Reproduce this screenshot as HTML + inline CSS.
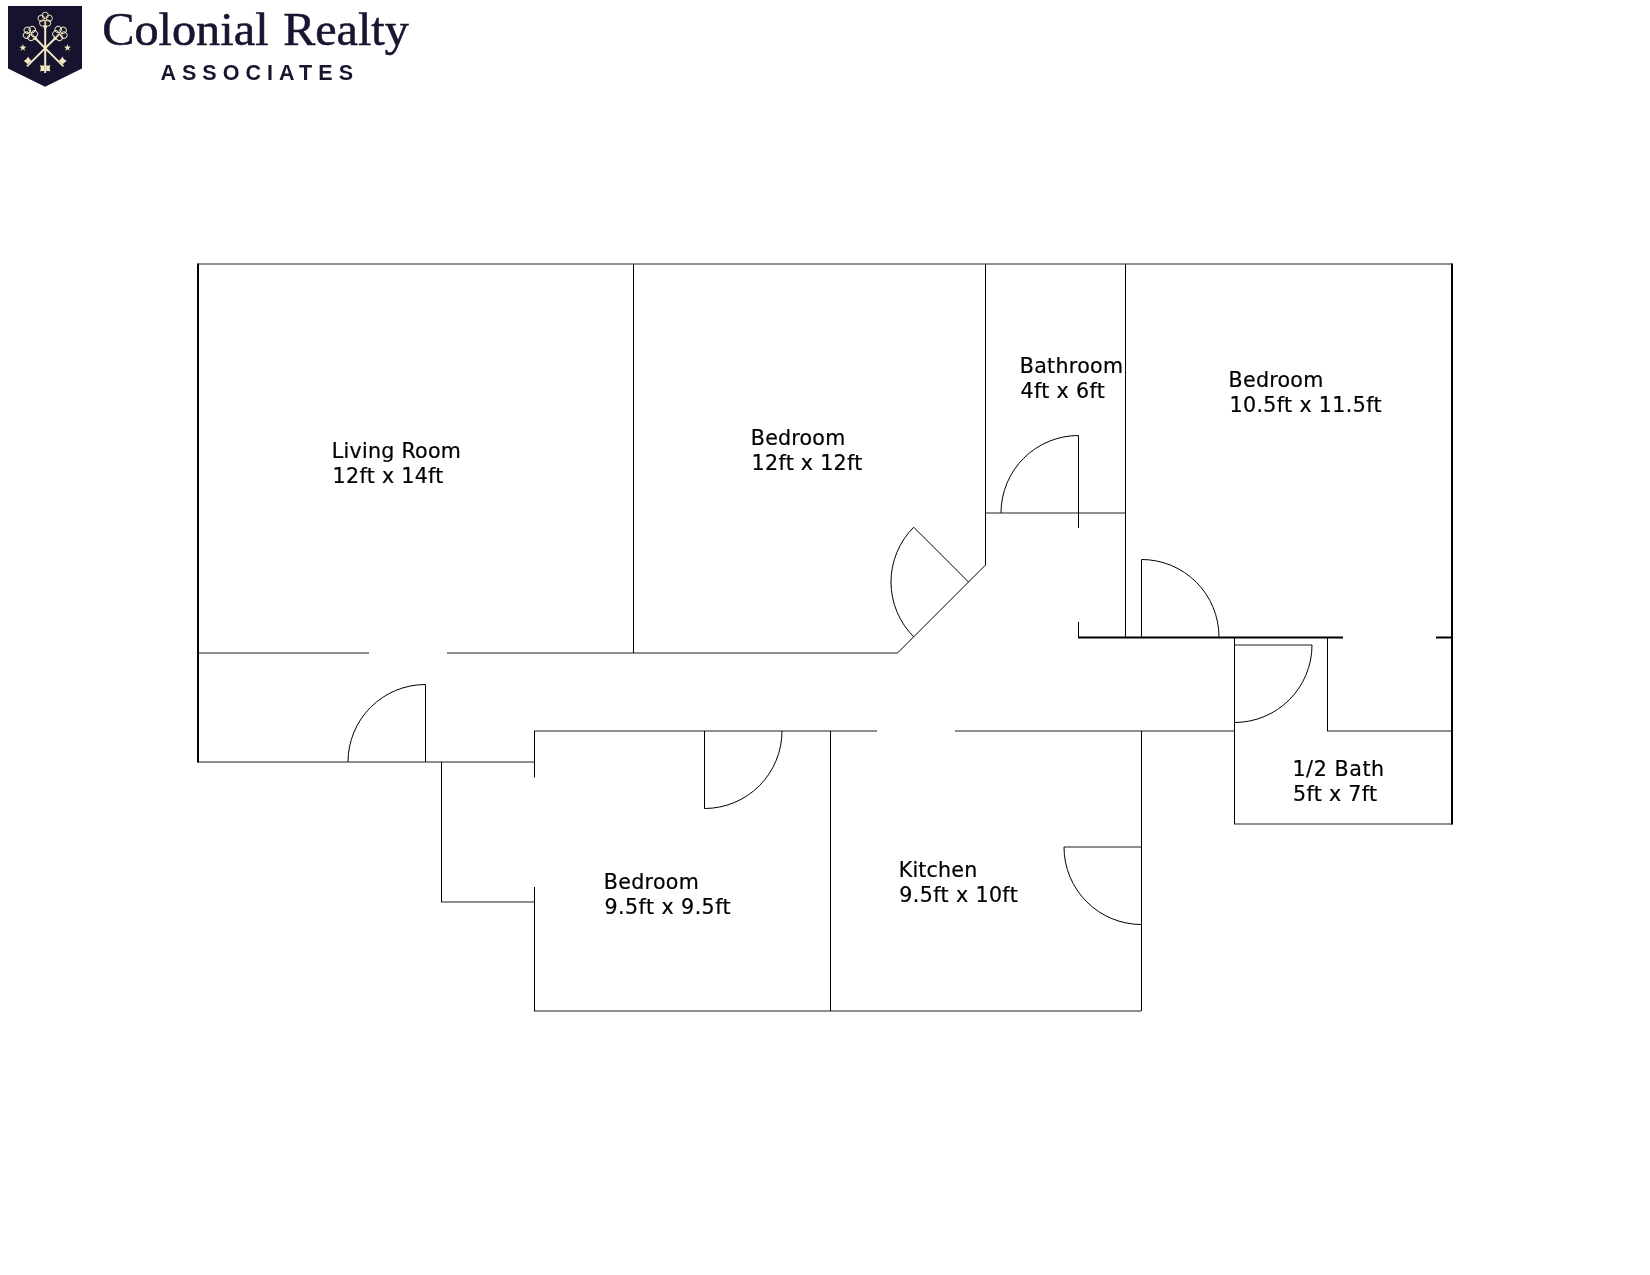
<!DOCTYPE html>
<html lang="en">
<head>
<meta charset="utf-8">
<title>Colonial Realty Associates - Floor Plan</title>
<style>
  html, body { margin: 0; padding: 0; background: #ffffff; }
  body { width: 1650px; height: 1275px; overflow: hidden; position: relative; }
  svg { position: absolute; left: 0; top: 0; display: block; }
  .lbl { font-family: "DejaVu Sans", "Liberation Sans", sans-serif; font-size: 20.6px; fill: #000; stroke: #000; stroke-width: 0.22px; }
  .brand { font-family: "Liberation Serif", serif; font-size: 46px; fill: #17152f; stroke: #17152f; stroke-width: 0.55px; }
  .assoc { font-family: "Liberation Sans", sans-serif; font-weight: bold; font-size: 21.5px; fill: #17152f; }
</style>
</head>
<body>
<svg width="1650" height="1275" viewBox="0 0 1650 1275">
  <defs><filter id="noop" x="0" y="0" width="1650" height="1275" filterUnits="userSpaceOnUse" color-interpolation-filters="sRGB"><feOffset dx="0" dy="0"/></filter></defs>
  <rect x="0" y="0" width="1650" height="1275" fill="#ffffff"/>

  <!-- LOGO -->
  <g id="logo" filter="url(#noop)">
    <polygon points="8,6 82,6 82,68.4 45.1,86.8 8,68.4" fill="#15132e"/>
    <g transform="translate(45.2,48.2)">
        <g fill="none" stroke="#f2e9c0" stroke-width="0.95">
          <circle cx="0.00" cy="-32.85" r="3.15"/>
          <circle cx="4.04" cy="-29.91" r="3.15"/>
          <circle cx="2.50" cy="-25.16" r="3.15"/>
          <circle cx="-2.50" cy="-25.16" r="3.15"/>
          <circle cx="-4.04" cy="-29.91" r="3.15"/>
        </g>
        <path fill="#f2e9c0" d="M-2.20,-22.40 L2.20,-22.40 L1.20,-19.80 L1.00,-18.40 L1.00,24.70 L-1.00,24.70 L-1.00,-18.40 L-1.20,-19.80 Z"/>
        <path fill="#f2e9c0" d="M-1.00,17.40 L-3.87,17.30 L-5.10,16.80 L-4.44,20.10 L-5.10,23.40 L-3.87,22.90 L-1.00,22.80 Z"/>
        <path fill="#f2e9c0" d="M1.00,17.40 L3.87,17.30 L5.10,16.80 L4.44,20.10 L5.10,23.40 L3.87,22.90 L1.00,22.80 Z"/>
      </g>
    <g transform="translate(45.2,48.2) rotate(-45)">
        <g fill="none" stroke="#f2e9c0" stroke-width="0.95">
          <circle cx="0.00" cy="-25.35" r="3.15"/>
          <circle cx="4.04" cy="-22.41" r="3.15"/>
          <circle cx="2.50" cy="-17.66" r="3.15"/>
          <circle cx="-2.50" cy="-17.66" r="3.15"/>
          <circle cx="-4.04" cy="-22.41" r="3.15"/>
        </g>
        <path fill="#f2e9c0" d="M-2.15,-14.90 L2.15,-14.90 L1.15,-12.30 L0.95,-10.90 L0.95,25.80 L-0.95,25.80 L-0.95,-10.90 L-1.15,-12.30 Z"/>
        <path fill="#f2e9c0" d="M0.95,18.60 L4.66,18.50 L6.25,18.00 L5.40,21.20 L6.25,24.40 L4.66,23.90 L0.95,23.80 Z"/>
      </g>
    <g transform="translate(45.2,48.2) rotate(45)">
        <g fill="none" stroke="#f2e9c0" stroke-width="0.95">
          <circle cx="0.00" cy="-25.35" r="3.15"/>
          <circle cx="4.04" cy="-22.41" r="3.15"/>
          <circle cx="2.50" cy="-17.66" r="3.15"/>
          <circle cx="-2.50" cy="-17.66" r="3.15"/>
          <circle cx="-4.04" cy="-22.41" r="3.15"/>
        </g>
        <path fill="#f2e9c0" d="M-2.15,-14.90 L2.15,-14.90 L1.15,-12.30 L0.95,-10.90 L0.95,25.80 L-0.95,25.80 L-0.95,-10.90 L-1.15,-12.30 Z"/>
        <path fill="#f2e9c0" d="M-0.95,18.60 L-4.66,18.50 L-6.25,18.00 L-5.40,21.20 L-6.25,24.40 L-4.66,23.90 L-0.95,23.80 Z"/>
      </g>
    <polygon fill="#f2e9c0" points="22.90,44.10 23.78,46.59 26.42,46.66 24.33,48.26 25.07,50.79 22.90,49.30 20.73,50.79 21.47,48.26 19.38,46.66 22.02,46.59"/>
    <polygon fill="#f2e9c0" points="67.50,44.10 68.38,46.59 71.02,46.66 68.93,48.26 69.67,50.79 67.50,49.30 65.33,50.79 66.07,48.26 63.98,46.66 66.62,46.59"/>
    <text class="brand" x="102.16" y="44.6" textLength="166.42" lengthAdjust="spacingAndGlyphs">Colonial</text>
    <text class="brand" x="283.16" y="44.6" textLength="125.56" lengthAdjust="spacingAndGlyphs">Realty</text>
    <text class="assoc" x="160.4" y="80" letter-spacing="6.05">ASSOCIATES</text>
  </g>

  <!-- FLOOR PLAN: horizontal walls (1px on pixel boundary => soft grey 2px) -->
  <g id="hwalls" stroke="#1e1e1e" stroke-width="1" fill="none">
    <line x1="198" y1="264" x2="1452" y2="264"/>
    <line x1="198" y1="653" x2="369" y2="653"/>
    <line x1="447" y1="653" x2="897.5" y2="653"/>
    <line x1="198" y1="762" x2="534" y2="762"/>
    <line x1="534" y1="731" x2="877" y2="731"/>
    <line x1="955" y1="731" x2="1234" y2="731"/>
    <line x1="985" y1="513" x2="1125" y2="513"/>
    <line x1="1234" y1="645" x2="1312" y2="645"/>
    <line x1="1327" y1="731" x2="1452" y2="731"/>
    <line x1="1234" y1="824" x2="1452" y2="824"/>
    <line x1="441" y1="902" x2="534" y2="902"/>
    <line x1="534" y1="1011" x2="1141" y2="1011"/>
    <line x1="1064" y1="847" x2="1141.5" y2="847"/>
  </g>
  <!-- thick horizontal -->
  <g stroke="#000" stroke-width="2" fill="none">
    <line x1="1078" y1="637.5" x2="1343" y2="637.5"/>
    <line x1="1436" y1="637.5" x2="1452" y2="637.5"/>
  </g>

  <!-- vertical walls (crisp 1px) -->
  <g id="vwalls" stroke="#000" stroke-width="1" fill="none">
    <line x1="633.5" y1="264" x2="633.5" y2="653"/>
    <line x1="985.5" y1="264" x2="985.5" y2="565"/>
    <line x1="1125.5" y1="264" x2="1125.5" y2="637"/>
    <line x1="1078.5" y1="435.5" x2="1078.5" y2="528"/>
    <line x1="1078.5" y1="622" x2="1078.5" y2="637.5"/>
    <line x1="1141.5" y1="559.5" x2="1141.5" y2="637"/>
    <line x1="1234.5" y1="637" x2="1234.5" y2="824"/>
    <line x1="1327.5" y1="637" x2="1327.5" y2="731"/>
    <line x1="425.5" y1="684.5" x2="425.5" y2="762"/>
    <line x1="441.5" y1="762" x2="441.5" y2="902"/>
    <line x1="534.5" y1="731" x2="534.5" y2="777.5"/>
    <line x1="534.5" y1="887" x2="534.5" y2="1011"/>
    <line x1="704.5" y1="731" x2="704.5" y2="808.5"/>
    <line x1="830.5" y1="731" x2="830.5" y2="1011"/>
    <line x1="1141.5" y1="731" x2="1141.5" y2="1011"/>
  </g>
  <!-- outer thick verticals -->
  <g stroke="#000" stroke-width="2" fill="none">
    <line x1="198" y1="263.5" x2="198" y2="762.5"/>
    <line x1="1452" y1="263.5" x2="1452" y2="824.5"/>
  </g>

  <!-- diagonals -->
  <g stroke="#000" stroke-width="1" fill="none">
    <line x1="985.5" y1="565" x2="897.5" y2="653"/>
    <line x1="968.5" y1="582" x2="913.7" y2="527.2"/>
  </g>

  <!-- door swing arcs -->
  <g id="arcs" stroke="#000" stroke-width="1" fill="none">
    <path d="M425.5,684.5 A77.5,77.5 0 0 0 348,762"/>
    <path d="M913.7,527.2 A77.5,77.5 0 0 0 913.7,636.8"/>
    <path d="M1078.5,435.5 A77.5,77.5 0 0 0 1001,513"/>
    <path d="M1141.5,559.5 A77.5,77.5 0 0 1 1219,637"/>
    <path d="M1312,645 A77.5,77.5 0 0 1 1234.5,722.5"/>
    <path d="M704.5,808.5 A77.5,77.5 0 0 0 782,731"/>
    <path d="M1064,847 A77.5,77.5 0 0 0 1141.5,924.5"/>
  </g>

  <!-- labels -->
  <g id="labels" filter="url(#noop)">
    <text class="lbl" x="331.81" y="457.60" textLength="129.07">Living Room</text>
    <text class="lbl" x="332.60" y="482.90" textLength="110.79">12ft x 14ft</text>
    <text class="lbl" x="750.79" y="444.60" textLength="94.45">Bedroom</text>
    <text class="lbl" x="751.60" y="469.85" textLength="110.71">12ft x 12ft</text>
    <text class="lbl" x="1019.78" y="372.60" textLength="103.22">Bathroom</text>
    <text class="lbl" x="1020.42" y="397.85" textLength="84.53">4ft x 6ft</text>
    <text class="lbl" x="1228.59" y="386.80" textLength="94.70">Bedroom</text>
    <text class="lbl" x="1229.50" y="411.90" textLength="152.01">10.5ft x 11.5ft</text>
    <text class="lbl" x="1292.40" y="775.80" textLength="91.75">1/2 Bath</text>
    <text class="lbl" x="1293.02" y="800.85" textLength="84.02">5ft x 7ft</text>
    <text class="lbl" x="603.78" y="888.60" textLength="95.08">Bedroom</text>
    <text class="lbl" x="604.52" y="913.85" textLength="126.06">9.5ft x 9.5ft</text>
    <text class="lbl" x="898.81" y="876.60" textLength="78.39">Kitchen</text>
    <text class="lbl" x="899.35" y="901.85" textLength="118.37">9.5ft x 10ft</text>
  </g>
</svg>
</body>
</html>
